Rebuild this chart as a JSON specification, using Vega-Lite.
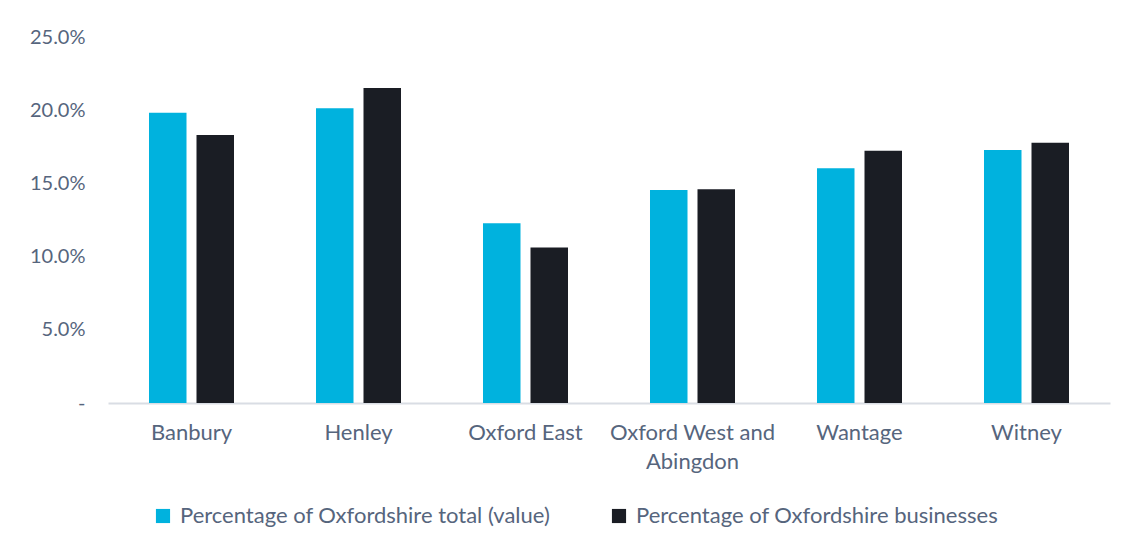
{
  "$schema": "https://vega.github.io/schema/vega-lite/v6.json",
  "width": 1002,
  "height": 366,
  "autosize": "none",
  "padding": {"left": 108, "top": 37, "right": 26, "bottom": 148},
  "background": "white",
  "config": {
    "view": {"stroke": null},
    "font": "Lato",
    "axis": {"labelFont": "Lato", "labelColor": "#56657d", "labelFontSize": 20, "titleFont": "Lato"},
    "legend": {"labelFont": "Lato", "labelColor": "#56657d", "labelFontSize": 22}
  },
  "data": {
    "values": [
      {"area": "Banbury", "series": "Percentage of Oxfordshire total (value)", "value": 0.1983},
      {"area": "Banbury", "series": "Percentage of Oxfordshire businesses", "value": 0.1831},
      {"area": "Henley", "series": "Percentage of Oxfordshire total (value)", "value": 0.2013},
      {"area": "Henley", "series": "Percentage of Oxfordshire businesses", "value": 0.2152},
      {"area": "Oxford East", "series": "Percentage of Oxfordshire total (value)", "value": 0.1227},
      {"area": "Oxford East", "series": "Percentage of Oxfordshire businesses", "value": 0.1063},
      {"area": "Oxford West and Abingdon", "series": "Percentage of Oxfordshire total (value)", "value": 0.1455},
      {"area": "Oxford West and Abingdon", "series": "Percentage of Oxfordshire businesses", "value": 0.146},
      {"area": "Wantage", "series": "Percentage of Oxfordshire total (value)", "value": 0.1603},
      {"area": "Wantage", "series": "Percentage of Oxfordshire businesses", "value": 0.1723},
      {"area": "Witney", "series": "Percentage of Oxfordshire total (value)", "value": 0.1728},
      {"area": "Witney", "series": "Percentage of Oxfordshire businesses", "value": 0.1778}
    ]
  },
  "mark": {"type": "bar"},
  "encoding": {
    "x": {
      "field": "area",
      "type": "nominal",
      "sort": null,
      "scale": {"paddingInner": 0.491, "paddingOuter": 0.2455},
      "axis": {
        "title": null,
        "labelAngle": 0,
        "ticks": false,
        "domainColor": "#d9dde4",
        "domainWidth": 2,
        "labelFontSize": 22,
        "labelPadding": 19,
        "labelLineHeight": 29,
        "labelBaseline": "top",
        "labelExpr": "datum.value == 'Oxford West and Abingdon' ? ['Oxford West and', 'Abingdon'] : datum.value"
      }
    },
    "xOffset": {
      "field": "series",
      "type": "nominal",
      "sort": null,
      "scale": {"paddingInner": 0.2105, "paddingOuter": 0}
    },
    "y": {
      "field": "value",
      "type": "quantitative",
      "scale": {"domain": [0, 0.25], "nice": false},
      "axis": {
        "title": null,
        "values": [0, 0.05, 0.1, 0.15, 0.2, 0.25],
        "domain": false,
        "ticks": false,
        "grid": false,
        "labelPadding": 23,
        "labelExpr": "datum.value == 0 ? '-' : format(datum.value, '.1%')"
      }
    },
    "color": {
      "field": "series",
      "type": "nominal",
      "sort": null,
      "scale": {"range": ["#00b2de", "#1a1d24"]},
      "legend": {
        "title": null,
        "orient": "none",
        "direction": "horizontal",
        "legendX": 44,
        "legendY": 468,
        "symbolType": "square",
        "symbolSize": 200,
        "symbolStrokeWidth": 0,
        "columnPadding": 57,
        "labelOffset": 6,
        "labelLimit": 500
      }
    }
  }
}
